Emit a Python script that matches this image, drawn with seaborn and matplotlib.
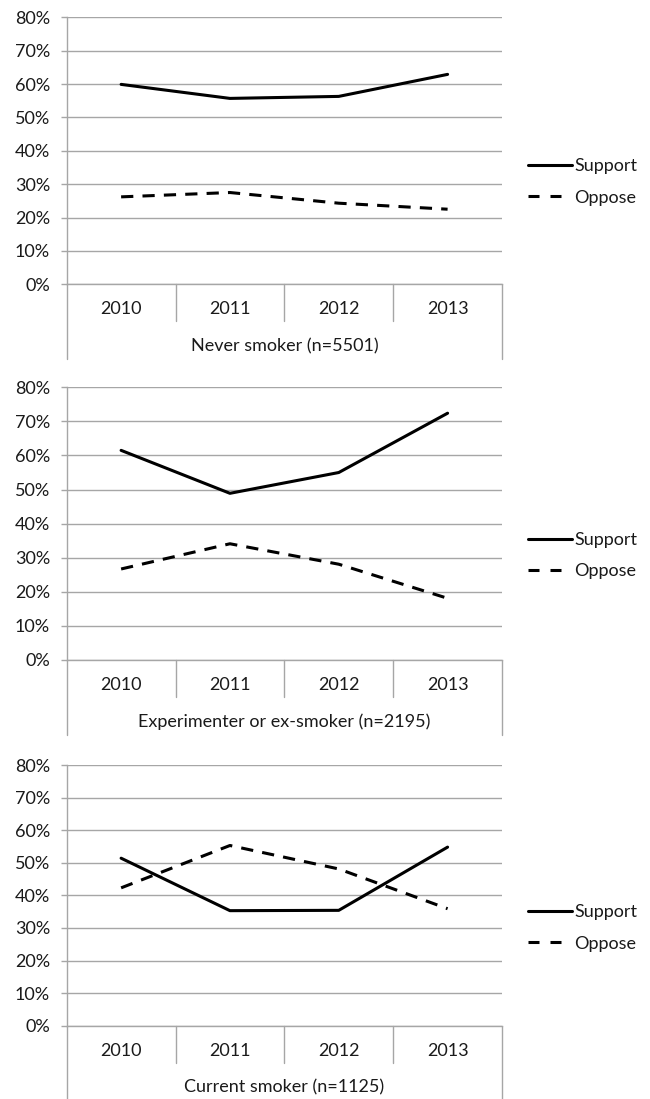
import matplotlib
matplotlib.use("Agg")
import matplotlib.pyplot as plt
import matplotlib.transforms as mtransforms
from matplotlib.lines import Line2D
import seaborn as sns
import pandas as pd

# ---- data ----
years = ["2010", "2011", "2012", "2013"]
groups = ["Never smoker (n=5501)", "Experimenter or ex-smoker (n=2195)", "Current smoker (n=1125)"]
support_never = [59.9, 55.7, 56.3, 62.9]
oppose_never = [26.2, 27.5, 24.3, 22.5]
support_exp = [61.5, 48.9, 55.0, 72.4]
oppose_exp = [26.7, 34.1, 28.1, 18.1]
support_current = [51.4, 35.3, 35.4, 54.8]
oppose_current = [42.3, 55.3, 48.1, 35.9]
series_names = ["Support", "Oppose"]
yticks = [0, 10, 20, 30, 40, 50, 60, 70, 80]

panel_data = [
    (support_never, oppose_never),
    (support_exp, oppose_exp),
    (support_current, oppose_current),
]

sns.set_theme(style="white")
plt.rcParams["font.family"] = ["Lato", "DejaVu Sans"]

W, H = 650, 1099
fig = plt.figure(figsize=(W / 100, H / 100), dpi=100)

# (top_px, bottom_px, legend_center_px)
panels_px = [(17.3, 284.3, 182), (387.3, 660.0, 555.5), (765.0, 1025.7, 928)]
left_px, right_px = 66.7, 502.0

grid_col = "#A6A6A6"
text_col = "#1a1a1a"
fs = 13

for (sup, opp), title, (top, bot, leg_y) in zip(panel_data, groups, panels_px):
    ax = fig.add_axes([left_px / W, (H - bot) / H, (right_px - left_px) / W, (bot - top) / H])
    ax_h = bot - top
    rows = []
    for i, y in enumerate(years):
        rows.append({"pos": i, "value": sup[i], "Series": "Support"})
        rows.append({"pos": i, "value": opp[i], "Series": "Oppose"})
    df = pd.DataFrame(rows)
    sns.lineplot(data=df, x="pos", y="value", style="Series", style_order=series_names,
                 dashes={"Support": "", "Oppose": (4.0, 3.0)}, color="black",
                 linewidth=2.2, ax=ax, legend=False, zorder=3)

    ax.set_xlim(-0.5, 3.5)
    ax.set_ylim(0, 80)
    ax.set_yticks(yticks)
    ax.set_yticklabels([f"{t}%" for t in yticks], fontsize=fs, color=text_col)
    ax.yaxis.grid(True, color=grid_col, linewidth=1.0)
    ax.xaxis.grid(False)
    ax.set_xticks([])
    ax.set_xlabel("")
    ax.set_ylabel("")
    ax.tick_params(axis="y", which="major", direction="out", length=4, width=1.0,
                   color=grid_col, pad=8, left=True)
    for s in ["top", "right"]:
        ax.spines[s].set_visible(False)
    ax.spines["left"].set_color(grid_col)
    ax.spines["left"].set_linewidth(1.0)
    ax.spines["bottom"].set_color(grid_col)
    ax.spines["bottom"].set_linewidth(1.0)

    trans = mtransforms.blended_transform_factory(ax.transData, ax.transAxes)
    inner = -37.0 / ax_h
    outer = -75.0 / ax_h
    for xb in [0.5, 1.5, 2.5]:
        ax.plot([xb, xb], [0, inner], transform=trans, color=grid_col, lw=1.0, clip_on=False)
    for xb in [-0.5, 3.5]:
        ax.plot([xb, xb], [0, outer], transform=trans, color=grid_col, lw=1.0, clip_on=False)
    for i, y in enumerate(years):
        ax.text(i, -25.0 / ax_h, y, transform=trans, ha="center", va="center",
                fontsize=fs, color=text_col)
    ax.text(1.5, -62.0 / ax_h, title, transform=trans, ha="center", va="center",
            fontsize=fs, color=text_col)

    leg_handles = [Line2D([], [], color="black", lw=2.2, linestyle="-"),
                   Line2D([], [], color="black", lw=2.2, linestyle=(0, (3.6, 3.6)))]
    fig.legend(leg_handles, series_names, loc="center left",
               bbox_to_anchor=(527.7 / W, (H - leg_y) / H), frameon=False,
               fontsize=fs, handlelength=2.45, handletextpad=0.12, labelspacing=0.85,
               borderpad=0, borderaxespad=0, labelcolor=text_col)

fig.savefig("out.png", dpi=100)
